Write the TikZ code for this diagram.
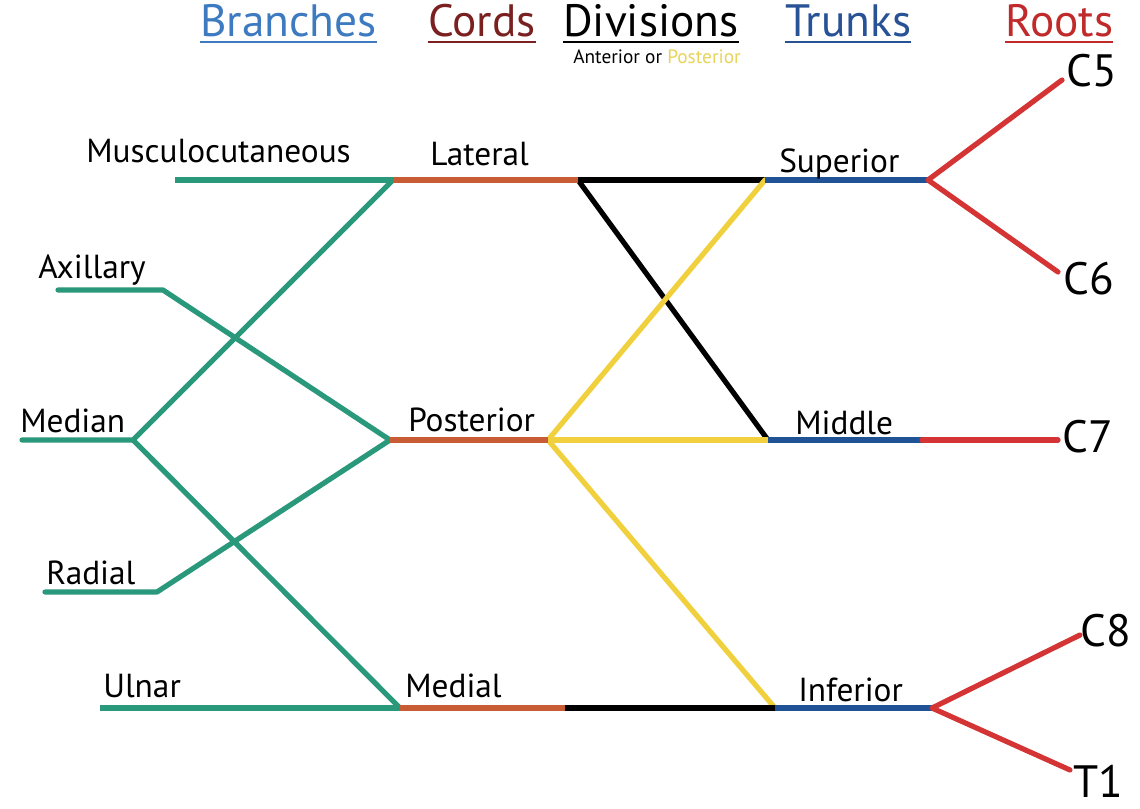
\documentclass[tikz,border=0pt]{standalone}
\usepackage{fontspec}
\setmainfont{PT Sans}
\definecolor{cgreen}{RGB}{42,152,122}
\definecolor{corange}{RGB}{200,92,52}
\definecolor{cyellow}{RGB}{240,208,60}
\definecolor{cblue}{RGB}{32,82,150}
\definecolor{cred}{RGB}{212,52,52}
\definecolor{hblue}{RGB}{62,122,192}
\definecolor{hcord}{RGB}{122,32,32}
\definecolor{htrunk}{RGB}{40,82,150}
\definecolor{hroot}{RGB}{192,42,42}
\definecolor{hpost}{RGB}{232,212,90}
\begin{document}
\begin{tikzpicture}[x=0.75pt,y=-0.75pt,
  nerve/.style={line width=3.9pt,line cap=round,line join=round},
  lbl/.style={inner sep=0pt,anchor=base west,font=\fontsize{25}{27}\selectfont},
  root/.style={inner sep=0pt,anchor=base west,font=\fontsize{34}{36}\selectfont},
  head/.style={inner sep=0pt,anchor=base west,font=\fontsize{34}{36}\selectfont}]
\useasboundingbox (0,0) rectangle (1140,808);
\fill[white] (0,0) rectangle (1140,808);
% coordinates
\coordinate (mcE) at (175,180);
\coordinate (latA) at (393,180);
\coordinate (latB) at (578,180);
\coordinate (supA) at (765,180);
\coordinate (supB) at (928,180);
\coordinate (c5) at (1062,80);
\coordinate (c6) at (1058,272);
\coordinate (axE) at (58,290);
\coordinate (axB) at (163,290);
\coordinate (medE) at (22,440);
\coordinate (medB) at (133,440);
\coordinate (posA) at (390,440);
\coordinate (posB) at (548,440);
\coordinate (midA) at (768,440);
\coordinate (midB) at (922,440);
\coordinate (c7) at (1058,440);
\coordinate (radE) at (45,592);
\coordinate (radB) at (157,592);
\coordinate (ulE) at (100,708);
\coordinate (mdA) at (400,708);
\coordinate (mdB) at (565,708);
\coordinate (infA) at (775,708);
\coordinate (infB) at (932,708);
\coordinate (c8) at (1080,635);
\coordinate (t1) at (1070,770);
% divisions
\draw[nerve,black,line cap=butt] (latB) -- (supA);
\draw[nerve,black] (latB) -- (midA);
\draw[nerve,cyellow] (posB) -- (supA);
\draw[nerve,cyellow,line cap=butt] (posB) -- (midA);
\draw[nerve,cyellow] (posB) -- (infA);
\draw[nerve,black,line cap=butt] (mdB) -- (infA);
% branches
\draw[nerve,cgreen,line cap=butt] (mcE) -- (latA);
\draw[nerve,cgreen] (axE) -- (axB) -- (posA);
\draw[nerve,cgreen] (medE) -- (medB) -- (latA);
\draw[nerve,cgreen] (medB) -- (mdA);
\draw[nerve,cgreen] (radE) -- (radB) -- (posA);
\draw[nerve,cgreen,line cap=butt] (ulE) -- (mdA);
% cords
\draw[nerve,corange,line cap=butt] (latA) -- (latB);
\draw[nerve,corange,line cap=butt] (posA) -- (posB);
\draw[nerve,corange,line cap=butt] (mdA) -- (mdB);
% trunks
\draw[nerve,cblue,line cap=butt] (supA) -- (supB);
\draw[nerve,cblue,line cap=butt] (midA) -- (midB);
\draw[nerve,cblue,line cap=butt] (infA) -- (infB);
% roots
\draw[nerve,cred] (c5) -- (supB) -- (c6);
\draw[nerve,cred] (midB) -- (c7);
\draw[nerve,cred] (c8) -- (infB) -- (t1);
% labels
\node[lbl] (lmc) at (86,162) {Musculocutaneous};
\node[lbl] (llat) at (430,165) {Lateral};
\node[lbl] (lsup) at (779,172) {Superior};
\node[lbl] (lax) at (38,278) {Axillary};
\node[lbl] (lmed) at (20,432) {Median};
\node[lbl] (lpos) at (408,431) {Posterior};
\node[lbl] (lmid) at (795,434) {Middle};
\node[lbl] (lrad) at (46,584) {Radial};
\node[lbl] (lul) at (103,697) {Ulnar};
\node[lbl] (lmdl) at (405,697) {Medial};
\node[lbl] (linf) at (798,701) {Inferior};
\node[root] (rc5) at (1066,86) {C5};
\node[root] (rc6) at (1063,294) {C6};
\node[root] (rc7) at (1062,452) {C7};
\node[root] (rc8) at (1080,646) {C8};
\node[root] (rt1) at (1073,797) {T1};
% headers
\node[head,text=hblue] (hbr) at (200,36) {Branches};
\node[head,text=hcord] (hco) at (428,36) {Cords};
\node[head,text=black] (hdi) at (563,36) {Divisions};
\node[head,text=htrunk] (htr) at (785,36) {Trunks};
\node[head,text=hroot] (hro) at (1005,36) {Roots};
\foreach \n/\c in {hbr/hblue,hco/hcord,hdi/black,htr/htrunk,hro/hroot}
  \draw[\c,line width=1.6pt] ([yshift=-4.2pt]\n.base west) -- ([yshift=-4.2pt]\n.base east);
\node[inner sep=0pt,anchor=base,font=\fontsize{14.5}{16}\selectfont] (hap) at (657,63) {Anterior or \textcolor{hpost}{Posterior}};
\end{tikzpicture}
\end{document}
